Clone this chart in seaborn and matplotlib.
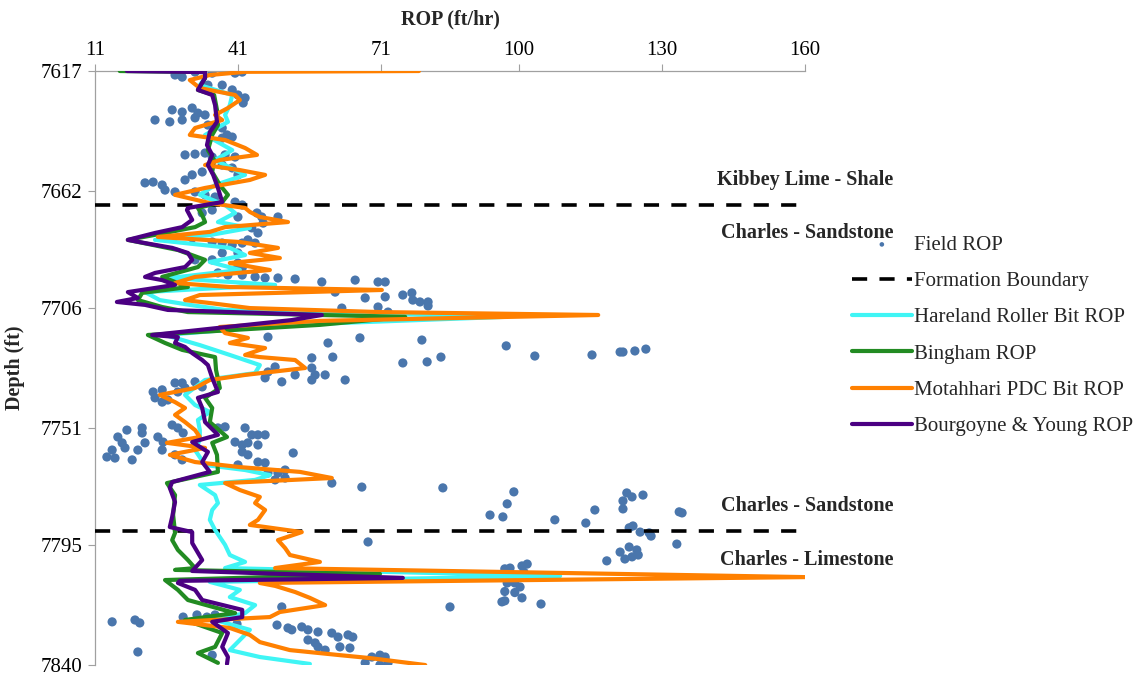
import pandas as pd
import matplotlib.pyplot as plt
import seaborn as sns

# Field ROP measurements (ft/hr) against depth (ft)
field_rop = [27.8, 29.3, 32.0, 35.6, 41.9, 40.4, 34.7, 37.7, 39.8, 41.0, 42.5, 42.1, 27.2, 29.3, 31.4, 32.6,
             29.3, 32.0, 34.1, 23.6, 26.7, 34.7, 37.7, 38.7, 39.8, 37.7, 29.9, 32.0, 34.1, 35.6, 38.3, 40.4,
             37.7, 39.8, 41.0, 31.4, 33.5, 21.5, 23.2, 25.1, 25.7, 27.8, 29.9, 32.0, 34.1, 36.2, 40.4, 41.9,
             35.6, 33.5, 41.0, 46.0, 49.4, 45.0, 46.3, 43.9, 45.2, 43.1, 37.7, 35.6, 31.4, 39.8, 41.9, 44.6,
             41.0, 37.7, 35.6, 32.0, 41.0, 41.9, 40.4, 36.8, 38.9, 41.9, 44.6, 46.7, 49.4, 53.0, 58.6, 65.6,
             70.4, 71.9, 61.4, 67.7, 71.9, 62.8, 70.4, 72.5, 75.6, 77.5, 77.7, 79.2, 80.9, 80.9,
             47.3, 59.9, 66.6, 56.5, 60.9, 79.6, 97.3, 103.3, 75.6, 80.7, 83.6, 115.3, 121.2, 121.8, 124.3, 126.6,
             56.5, 48.8, 47.3, 50.2, 53.0, 57.2, 59.3, 56.5, 63.5, 46.7,
             27.8, 29.3, 32.0, 33.5, 23.2, 25.1, 23.6, 25.1, 26.3, 28.4, 29.9, 27.2, 28.4, 29.5, 17.7, 20.9,
             20.9, 24.2, 15.8, 16.7, 21.5, 25.3, 14.6, 17.3, 20.0, 25.1, 13.5, 15.2, 18.8, 27.8, 29.3,
             36.8, 38.3, 42.5, 43.9, 45.2, 46.7, 40.4, 41.9, 43.1, 45.2, 41.9, 43.1, 52.6, 41.0, 45.2, 46.7,
             47.3, 49.4, 50.9, 50.9, 48.8, 60.7, 67.0, 84.0,
             98.9, 97.5, 93.9, 96.6, 107.5, 114.0, 115.9, 121.8, 122.6, 123.7, 126.0, 121.8, 123.1, 123.9,
             125.4, 127.3, 127.7, 133.6, 134.2, 133.1, 121.2, 123.1, 124.7, 125.0, 123.7, 122.2, 118.4, 68.3,
             97.0, 98.1, 100.6, 101.7, 101.0, 97.5, 99.1, 100.2, 97.0, 99.1, 100.6, 96.4, 97.0, 104.6, 85.5,
             14.6, 19.4, 20.4, 20.0, 29.5, 32.4, 34.5, 36.2, 40.8, 50.2, 49.2, 51.5, 52.3, 54.4, 55.7, 57.8,
             60.7, 62.0, 64.1, 65.1, 55.7, 57.2, 57.8, 59.3, 62.4, 64.5, 69.1, 70.8, 71.9, 67.7, 70.8, 72.5, 35.6]
field_depth = [7618.5, 7619.3, 7617.4, 7617.8, 7617.4, 7617.8, 7622.3, 7622.3, 7624.1, 7626.0, 7627.1, 7629.0,
               7631.6, 7632.4, 7630.9, 7632.8, 7635.4, 7634.6, 7633.5, 7635.4, 7636.1, 7637.3, 7638.4, 7641.0,
               7641.8, 7642.2, 7648.5, 7648.2, 7647.8, 7649.3, 7648.5, 7649.3, 7652.3, 7653.4, 7656.0, 7656.0,
               7654.9, 7659.0, 7658.7, 7659.8, 7661.7, 7662.4, 7657.9, 7662.4, 7663.5, 7664.3, 7666.2, 7667.3,
               7669.2, 7670.3, 7671.8, 7671.8, 7671.8, 7670.3, 7674.1, 7675.9, 7677.8, 7680.4, 7681.6, 7681.2,
               7679.7, 7682.3, 7681.6, 7681.6, 7685.3, 7685.3, 7687.9, 7687.9, 7689.1, 7690.9, 7691.7, 7692.8,
               7693.6, 7693.6, 7694.3, 7694.7, 7694.7, 7695.1, 7696.2, 7695.5, 7696.2, 7696.2, 7700.0, 7702.2,
               7701.8, 7706.0, 7705.6, 7707.5, 7701.1, 7700.3, 7703.0, 7703.7, 7703.7, 7705.2,
               7716.9, 7719.1, 7717.2, 7724.7, 7724.4, 7718.0, 7720.2, 7724.0, 7726.6, 7726.2, 7724.4, 7723.6,
               7722.5, 7722.5, 7722.1, 7721.4,
               7728.5, 7728.1, 7730.0, 7733.7, 7731.1, 7731.1, 7731.1, 7733.0, 7733.0, 7732.2,
               7734.1, 7734.1, 7733.7, 7735.6, 7737.5, 7736.7, 7739.7, 7741.3, 7740.5, 7737.5, 7736.0, 7749.9,
               7751.0, 7752.9, 7751.8, 7751.0, 7752.9, 7754.4, 7754.4, 7756.6, 7756.6, 7756.3, 7759.3, 7758.5,
               7759.3, 7759.3, 7761.9, 7762.3, 7763.0, 7761.1, 7763.0,
               7751.0, 7750.6, 7751.0, 7753.6, 7753.6, 7753.6, 7756.3, 7757.4, 7756.6, 7757.4, 7760.0, 7761.1,
               7760.4, 7764.9, 7763.8, 7764.1, 7767.9, 7767.9, 7766.8, 7769.8, 7770.5, 7771.7, 7773.2, 7773.5,
               7775.0, 7779.5, 7783.7, 7784.4, 7785.5, 7786.7, 7781.8, 7778.4, 7775.4, 7776.9, 7776.2, 7781.4,
               7788.5, 7787.8, 7790.1, 7790.4, 7791.6, 7782.5, 7782.9, 7794.6, 7797.6, 7795.7, 7796.8, 7798.7,
               7799.4, 7800.2, 7800.9, 7793.8,
               7803.9, 7803.6, 7802.8, 7802.1, 7805.1, 7809.2, 7809.2, 7810.7, 7812.4, 7812.8, 7814.8, 7816.3,
               7815.9, 7817.1, 7818.2,
               7823.8, 7823.1, 7824.2, 7835.1, 7822.0, 7821.2, 7822.0, 7821.2, 7824.6, 7818.2, 7825.0, 7826.1,
               7826.8, 7825.7, 7826.8, 7827.6, 7828.0, 7829.5, 7828.7, 7829.5, 7830.6, 7831.7, 7833.2, 7834.4,
               7833.2, 7833.6, 7837.0, 7836.3, 7837.0, 7839.2, 7840.0, 7839.2, 7836.3]

# Hareland roller bit model
hareland_depth = [7617.4, 7619.6, 7622.3, 7626.0, 7629.8, 7633.5, 7636.1, 7641.0, 7646.7, 7650.4, 7656.0, 7659.8,
                  7663.5, 7667.3, 7670.3, 7673.7, 7675.9, 7678.6, 7680.4, 7683.4, 7686.1, 7688.7, 7691.7, 7694.7,
                  7697.3, 7700.0, 7703.0, 7704.8, 7706.7, 7709.3, 7712.3, 7716.1, 7719.9, 7723.6, 7727.4, 7730.4,
                  7733.0, 7738.6, 7742.4, 7745.0, 7748.0, 7751.8, 7755.5, 7759.3, 7764.9, 7766.8, 7768.7, 7770.5,
                  7772.4, 7776.2, 7779.2, 7781.8, 7785.5, 7789.3, 7794.9, 7798.7, 7801.3, 7803.6, 7806.6, 7808.8,
                  7811.8, 7814.5, 7817.5, 7820.5, 7823.1, 7826.8, 7830.6, 7834.4, 7837.0, 7839.6]
hareland_rop = [34.1, 34.1, 33.0, 39.8, 39.3, 38.3, 38.9, 34.1, 39.8, 36.2, 42.5, 36.2,
                33.0, 38.3, 40.4, 36.8, 43.5, 35.1, 23.6, 39.3, 42.5, 35.1, 41.4, 26.7,
                48.8, 21.5, 24.6, 30.9, 38.3, 97.0, 51.9, 25.7, 33.0, 39.3, 45.6, 44.6,
                34.1, 29.9, 32.0, 35.1, 32.6, 33.0, 33.0, 32.0, 34.1, 42.5, 47.7, 44.6,
                33.0, 36.2, 36.8, 35.6, 35.1, 36.2, 38.3, 39.3, 42.5, 38.3, 108.6, 35.1,
                41.4, 39.3, 44.6, 42.5, 36.2, 43.5, 41.4, 39.3, 45.6, 56.1]

# Bingham model
bingham_depth = [7617.0, 7617.4, 7619.6, 7624.1, 7626.0, 7631.6, 7637.3, 7641.0, 7646.7, 7650.4, 7654.9, 7659.8,
                 7663.5, 7666.2, 7668.4, 7671.1, 7673.7, 7675.6, 7677.8, 7680.4, 7684.2, 7687.9, 7690.6, 7694.3,
                 7698.1, 7700.3, 7703.0, 7705.6, 7707.5, 7709.3, 7712.3, 7716.1, 7719.1, 7721.7, 7724.4, 7729.2,
                 7736.0, 7739.7, 7743.5, 7748.8, 7754.4, 7756.6, 7761.1, 7767.5, 7771.7, 7776.2, 7783.7, 7790.4,
                 7793.1, 7796.8, 7800.6, 7803.6, 7804.3, 7805.8, 7808.1, 7811.8, 7815.6, 7820.5, 7823.1, 7828.0,
                 7833.2, 7835.5, 7839.2]
bingham_rop = [16.2, 34.1, 34.1, 32.6, 36.0, 36.6, 36.8, 35.6, 34.7, 36.0, 35.6, 37.2,
               38.9, 37.7, 32.6, 33.5, 34.1, 32.0, 25.7, 17.9, 28.4, 34.1, 32.6, 25.1,
               30.5, 20.9, 20.0, 25.1, 30.5, 76.1, 58.2, 22.1, 25.7, 29.3, 36.2, 36.4,
               37.2, 34.1, 35.6, 35.1, 38.7, 35.6, 36.6, 36.8, 26.1, 27.8, 27.4, 27.8,
               27.2, 28.4, 30.5, 32.0, 27.8, 70.8, 25.7, 28.4, 30.5, 40.4, 29.9, 37.7,
               36.2, 32.6, 36.8]

# Motahhari PDC bit model
motahhari_depth = [7617.0, 7617.3, 7618.5, 7620.4, 7623.4, 7626.0, 7627.9, 7630.9, 7633.5, 7635.4, 7638.4, 7641.0,
                   7642.9, 7645.9, 7648.5, 7650.4, 7652.3, 7654.2, 7656.0, 7657.9, 7660.9, 7663.5, 7666.6, 7668.4,
                   7669.9, 7671.8, 7673.7, 7675.6, 7677.4, 7679.3, 7681.2, 7683.4, 7685.3, 7687.2, 7689.1, 7691.7,
                   7694.3, 7696.6, 7698.1, 7699.2, 7701.1, 7703.0, 7704.1, 7706.0, 7707.5, 7708.6, 7710.8, 7713.1,
                   7715.4, 7717.2, 7719.1, 7721.0, 7723.6, 7724.4, 7725.5, 7728.5, 7731.1, 7733.0, 7736.0, 7738.6,
                   7741.3, 7743.5, 7746.1, 7748.8, 7751.8, 7754.4, 7756.6, 7758.5, 7761.1, 7763.8, 7765.7, 7767.5,
                   7769.8, 7771.7, 7774.3, 7776.9, 7779.2, 7781.8, 7785.5, 7787.4, 7790.1, 7793.1, 7796.1, 7798.7,
                   7801.3, 7803.6, 7807.0, 7809.2, 7810.3, 7812.6, 7814.8, 7817.5, 7820.1, 7822.0, 7823.8, 7826.1,
                   7828.7, 7831.4, 7834.4, 7836.3, 7837.4, 7840.0]
motahhari_rop = [79.0, 42.5, 35.1, 30.9, 33.0, 40.4, 41.4, 38.9, 36.2, 37.7, 32.0, 30.9,
                 38.3, 42.5, 45.0, 37.2, 34.1, 41.4, 46.7, 43.5, 34.1, 27.8, 35.1, 42.5,
                 43.5, 45.6, 51.5, 38.3, 35.1, 24.2, 41.4, 49.4, 43.5, 49.8, 39.3, 47.7,
                 32.0, 27.8, 39.3, 71.2, 33.0, 29.9, 35.1, 43.5, 70.8, 116.6, 58.2, 37.2,
                 38.3, 43.1, 39.3, 46.7, 42.5, 45.6, 53.0, 55.1, 42.5, 35.1, 32.0, 24.6,
                 27.8, 29.9, 27.8, 29.9, 32.0, 33.0, 26.1, 34.1, 26.7, 32.0, 41.4, 54.0,
                 60.7, 38.3, 41.4, 45.6, 44.6, 46.7, 45.2, 43.5, 54.4, 49.4, 50.9, 51.9,
                 58.2, 48.8, 160.0, 45.6, 48.8, 53.0, 56.1, 59.3, 49.8, 47.7, 28.4, 39.3,
                 43.5, 45.6, 51.9, 62.4, 68.7, 80.3]

# Bourgoyne & Young model
by_depth = [7617.0, 7617.4, 7619.6, 7624.1, 7626.0, 7629.8, 7636.1, 7639.9, 7644.8, 7648.5, 7652.3, 7656.0,
            7660.9, 7666.2, 7668.4, 7669.2, 7672.9, 7675.6, 7677.8, 7680.4, 7681.6, 7683.4, 7685.3, 7687.9,
            7690.6, 7692.8, 7694.3, 7695.5, 7697.3, 7700.0, 7702.2, 7703.7, 7704.8, 7706.7, 7708.6, 7710.5,
            7716.1, 7716.9, 7719.1, 7720.6, 7722.9, 7725.5, 7727.4, 7732.2, 7737.5, 7739.7, 7743.5, 7748.8,
            7753.6, 7756.3, 7760.0, 7763.8, 7767.5, 7771.3, 7773.5, 7778.8, 7784.4, 7788.2, 7790.1, 7794.2,
            7800.6, 7804.7, 7807.3, 7808.4, 7809.2, 7811.8, 7815.6, 7819.3, 7822.0, 7823.8, 7828.0, 7833.2,
            7837.0, 7839.6]
by_rop = [17.7, 34.1, 34.1, 32.6, 35.6, 36.2, 36.6, 35.1, 34.5, 35.6, 34.7, 35.8,
          36.8, 37.7, 30.5, 30.3, 31.4, 29.3, 23.6, 17.9, 21.5, 27.2, 30.5, 31.4,
          29.9, 23.6, 21.5, 25.1, 27.8, 17.9, 20.0, 15.6, 21.5, 26.3, 58.6, 52.3,
          23.0, 28.4, 27.8, 29.9, 31.4, 33.5, 34.7, 35.6, 36.8, 32.6, 33.5, 34.1,
          36.8, 31.4, 34.7, 33.5, 35.1, 27.2, 26.7, 27.8, 27.2, 26.7, 31.4, 31.4,
          33.5, 31.4, 75.6, 28.8, 28.4, 32.0, 33.5, 41.9, 41.9, 35.6, 38.9, 37.7,
          38.9, 38.7]

boundary_depths = [7667.3, 7789.7]
formation_labels = ["Kibbey Lime - Shale", "Charles - Sandstone", "Charles - Sandstone", "Charles - Limestone"]
formation_label_depths = [7657.9, 7677.8, 7780.3, 7800.6]

x_ticks = [11, 41, 71, 100, 130, 160]
y_ticks = [7617, 7662, 7706, 7751, 7795, 7840]

models = [
    ("Hareland Roller Bit ROP", hareland_depth, hareland_rop, "#3ff5f5"),
    ("Bingham ROP", bingham_depth, bingham_rop, "#228b22"),
    ("Motahhari PDC Bit ROP", motahhari_depth, motahhari_rop, "#ff8000"),
    ("Bourgoyne & Young ROP", by_depth, by_rop, "#4b0082"),
]

sns.set_style("white")
plt.rcParams["font.family"] = ["Liberation Serif", "DejaVu Serif"]

fig = plt.figure(figsize=(11.43, 6.75), dpi=100)
ax = fig.add_axes([0.0831, 0.0148, 0.6212, 0.88])

field = pd.DataFrame({"ROP": field_rop, "Depth": field_depth})
sns.scatterplot(data=field, x="ROP", y="Depth", ax=ax, color="#4a76ac", s=44,
                edgecolor="none", label="Field ROP", zorder=2)

for i, d in enumerate(boundary_depths):
    ax.axhline(d, color="black", lw=2.6, dashes=(4.2, 3.4),
               label="Formation Boundary" if i == 0 else None, zorder=3)

for name, depth, rop, col in models:
    df = pd.DataFrame({"ROP": rop, "Depth": depth})
    sns.lineplot(data=df, x="ROP", y="Depth", ax=ax, sort=False, estimator=None,
                 orient="y", color=col, lw=3.0, label=name, zorder=4)

for txt, d in zip(formation_labels, formation_label_depths):
    ax.text(178.5, d, txt, ha="right", va="center", fontsize=14.5, fontweight="bold",
            clip_on=False)

ax.set_xlim(11, 160)
ax.set_ylim(7840, 7617)
ax.set_xticks(x_ticks)
ax.set_yticks(y_ticks)
ax.xaxis.tick_top()
ax.xaxis.set_label_position("top")
ax.set_xlabel("ROP (ft/hr)", fontsize=14.5, fontweight="bold", labelpad=12)
ax.set_ylabel("Depth (ft)", fontsize=14.5, fontweight="bold", labelpad=11)
ax.tick_params(axis="both", labelsize=15, colors="black", length=5, width=0.8,
               direction="out", color="#a0a0a0")
ax.tick_params(axis="x", top=True, bottom=False, pad=3)
ax.tick_params(axis="y", left=True, pad=4)
for side in ["right", "bottom"]:
    ax.spines[side].set_visible(False)
for side in ["left", "top"]:
    ax.spines[side].set_color("#a0a0a0")
    ax.spines[side].set_linewidth(0.9)

ax.legend(loc="upper left", bbox_to_anchor=(1.04, 0.755), frameon=False, fontsize=15,
          handlelength=2.85, handletextpad=0.1, labelspacing=0.8, markerscale=0.5)

plt.savefig("out.png", dpi=100)
